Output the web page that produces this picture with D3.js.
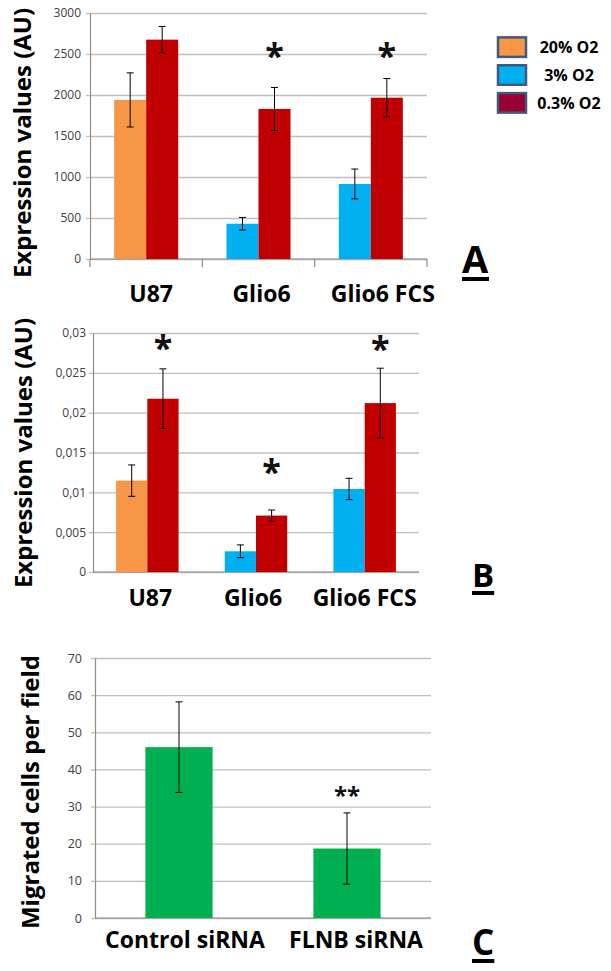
<!DOCTYPE html>
<html><head><meta charset="utf-8">
<script src="https://cdn.jsdelivr.net/npm/d3@7"></script>
<style>
body{margin:0;background:#fff}
svg{display:block}
text{font-family:"Open Sans",sans-serif}
</style>
</head><body>
<svg id="chart" width="611" height="971"></svg>
<script>
// ---------- data ----------
const categoriesAB = ["U87", "Glio6", "Glio6 FCS"];
const conditions = ["20% O2", "3% O2", "0.3% O2"];
const lowConditionAB = ["20% O2", "3% O2", "3% O2"];

const aLow = [1940, 430, 915];
const aLowErr = [330, 77, 182];
const aHyp = [2675, 1830, 1967];
const aHypErr = [160, 262, 234];
const aStars = ["", "*", "*"];
const aStarLevel = [null, 2550, 2550];
const aTicks = [0, 500, 1000, 1500, 2000, 2500, 3000];

const bLow = [0.01147, 0.0026, 0.01042];
const bLowErr = [0.00197, 0.0008, 0.00134];
const bHyp = [0.02175, 0.00708, 0.0212];
const bHypErr = [0.00375, 0.0007, 0.00438];
const bStars = ["*", "*", "*"];
const bStarLevel = [0.0289, 0.0133, 0.0288];
const bTicks = [0, 0.005, 0.01, 0.015, 0.02, 0.025, 0.03];
const bTickLabels = ["0", "0,005", "0,01", "0,015", "0,02", "0,025", "0,03"];

const categoriesC = ["Control siRNA", "FLNB siRNA"];
const cValues = [46.0, 18.7];
const cErr = [12.2, 9.6];
const cStars = ["", "**"];
const cStarLevel = [null, 34.1];
const cTicks = [0, 10, 20, 30, 40, 50, 60, 70];

// ---------- styles ----------
const barColor = {"20% O2": "#F79646", "3% O2": "#00B0F0", "0.3% O2": "#C00000"};
const legendColor = {"20% O2": "#F79646", "3% O2": "#00B0F0", "0.3% O2": "#990033"};
const green = "#00B050";
const gridColor = "#BFBFBF";
const axisColor = "#8C8C8C";

const svg = d3.select("#chart");

function panel(cfg) {
  const g = svg.append("g");
  const y = d3.scaleLinear().domain(cfg.domain).range([cfg.yBot, cfg.yTop]);
  const x = d3.scaleBand().domain(cfg.cats).range([cfg.x0, cfg.x1])
    .paddingInner(cfg.pad).paddingOuter(cfg.pad / 2);
  const nS = cfg.series.length;
  const xs = d3.scaleBand().domain(d3.range(nS)).range([0, x.bandwidth()]);

  // gridlines
  const grid = g.append("g").attr("transform", `translate(${cfg.x0},0)`)
    .call(d3.axisLeft(y).tickValues(cfg.ticks).tickSize(-(cfg.x1 - cfg.x0)).tickFormat(""));
  grid.select(".domain").remove();
  grid.selectAll("line").attr("stroke", gridColor).attr("stroke-width", 1.3);

  // y axis with labels
  const ya = g.append("g").attr("transform", `translate(${cfg.x0},0)`)
    .call(d3.axisLeft(y).tickValues(cfg.ticks).tickSize(4).tickSizeOuter(0)
      .tickPadding(cfg.tickPad).tickFormat(cfg.tickFmt));
  ya.select(".domain").attr("stroke", axisColor).attr("stroke-width", 1.2);
  ya.selectAll("line").attr("stroke", gridColor).attr("stroke-width", 1.3);
  ya.selectAll("text").attr("fill", "#404040").style("font-size", cfg.tickFont + "px");

  // x axis line
  const xa = g.append("g").attr("transform", `translate(0,${cfg.yBot})`)
    .call(d3.axisBottom(x).tickSize(0).tickFormat(""));
  xa.select(".domain").attr("stroke", axisColor).attr("stroke-width", 1.2)
    .attr("d", `M${cfg.x0},0H${cfg.x1}`);
  xa.selectAll(".tick").remove();
  if (cfg.catTicks) {
    const step = x.step();
    g.selectAll("line.cat").data(d3.range(cfg.cats.length + 1)).enter().append("line")
      .attr("x1", i => cfg.x0 + i * step).attr("x2", i => cfg.x0 + i * step)
      .attr("y1", cfg.yBot).attr("y2", cfg.yBot + 8)
      .attr("stroke", axisColor).attr("stroke-width", 1.2);
  }

  // bars
  cfg.series.forEach((s, si) => {
    const data = cfg.cats.map((c, i) => ({c, i, v: s.values[i], e: s.errs[i], col: s.color(i)}));
    g.selectAll(null).data(data).enter().append("rect")
      .attr("x", d => x(d.c) + xs(si))
      .attr("width", xs.bandwidth())
      .attr("y", d => y(d.v))
      .attr("height", d => y(0) - y(d.v))
      .attr("fill", d => d.col);
    const eb = g.selectAll(null).data(data).enter().append("g")
      .attr("transform", d => `translate(${x(d.c) + xs(si) + xs.bandwidth() / 2},0)`);
    eb.append("line").attr("y1", d => y(d.v + d.e)).attr("y2", d => y(d.v - d.e))
      .attr("stroke", "#000").attr("stroke-width", 1);
    eb.append("line").attr("x1", -3.5).attr("x2", 3.5).attr("y1", d => y(d.v + d.e)).attr("y2", d => y(d.v + d.e))
      .attr("stroke", "#000").attr("stroke-width", 1);
    eb.append("line").attr("x1", -3.5).attr("x2", 3.5).attr("y1", d => y(d.v - d.e)).attr("y2", d => y(d.v - d.e))
      .attr("stroke", "#000").attr("stroke-width", 1);
  });

  // significance stars (above last series)
  const si = nS - 1;
  g.selectAll(null).data(cfg.cats.map((c, i) => ({c, s: cfg.stars[i], lv: cfg.starLevel[i]})).filter(d => d.s))
    .enter().append("text")
    .attr("x", d => x(d.c) + xs(si) + xs.bandwidth() / 2)
    .attr("y", d => y(d.lv) + cfg.starSize * 0.53)
    .attr("text-anchor", "middle")
    .style("font-size", cfg.starSize + "px").style("font-weight", "bold")
    .attr("fill", "#111").text(d => d.s);

  // category labels
  g.selectAll(null).data(cfg.cats).enter().append("text")
    .attr("x", (c, i) => x(c) + x.bandwidth() / 2 + cfg.labelShift[i])
    .attr("y", cfg.labelY)
    .attr("text-anchor", "middle")
    .style("font-size", cfg.labelFont + "px").style("font-weight", "bold")
    .attr("fill", "#000").text(c => c);

  // y title
  g.append("text")
    .attr("transform", `translate(${cfg.titleX},${cfg.titleY}) rotate(-90)`)
    .attr("text-anchor", "middle")
    .style("font-size", "24px").style("font-weight", "bold")
    .attr("fill", "#000").text(cfg.title);

  // panel letter
  const lt = g.append("text").attr("x", cfg.letterX).attr("y", cfg.letterY)
    .style("font-size", cfg.letterSize + "px").style("font-weight", "bold")
    .attr("fill", "#000").text(cfg.letter);
  const bb = lt.node().getBBox();
  g.append("rect").attr("x", bb.x).attr("y", cfg.letterY + 4).attr("width", bb.width).attr("height", 4).attr("fill", "#000");
}

// Panel A
panel({
  cats: categoriesAB, domain: [0, 3000], ticks: aTicks, tickFmt: d3.format("d"),
  x0: 90, x1: 427, yTop: 13, yBot: 259, pad: 0.43,
  tickPad: 5, tickFont: 12, catTicks: true,
  series: [
    {values: aLow, errs: aLowErr, color: i => barColor[lowConditionAB[i]]},
    {values: aHyp, errs: aHypErr, color: () => barColor["0.3% O2"]}
  ],
  stars: aStars, starLevel: aStarLevel, starSize: 34,
  labelY: 302, labelFont: 23, labelShift: [5, 3, 12],
  title: "Expression values (AU)", titleX: 31, titleY: 143,
  letter: "A", letterX: 462, letterY: 273, letterSize: 38
});

// Panel B
panel({
  cats: categoriesAB, domain: [0, 0.03], ticks: bTicks,
  tickFmt: (d, i) => bTickLabels[i],
  x0: 93, x1: 419, yTop: 333, yBot: 572, pad: 0.425,
  tickPad: 3, tickFont: 12, catTicks: false,
  series: [
    {values: bLow, errs: bLowErr, color: i => barColor[lowConditionAB[i]]},
    {values: bHyp, errs: bHypErr, color: () => barColor["0.3% O2"]}
  ],
  stars: bStars, starLevel: bStarLevel, starSize: 34,
  labelY: 606, labelFont: 23, labelShift: [3, -3, 0],
  title: "Expression values (AU)", titleX: 32, titleY: 453,
  letter: "B", letterX: 472, letterY: 587, letterSize: 33
});

// Panel C
panel({
  cats: categoriesC, domain: [0, 70], ticks: cTicks, tickFmt: d3.format("d"),
  x0: 95, x1: 431, yTop: 658, yBot: 918, pad: 0.6,
  tickPad: 9, tickFont: 12.5, catTicks: false,
  series: [
    {values: cValues, errs: cErr, color: () => green}
  ],
  stars: cStars, starLevel: cStarLevel, starSize: 24,
  labelY: 948, labelFont: 23, labelShift: [6, 9],
  title: "Migrated cells per field", titleX: 39, titleY: 792,
  letter: "C", letterX: 472, letterY: 955, letterSize: 35
});

// Legend
const lg = svg.append("g");
const legY = d3.scaleBand().domain(conditions).range([29, 121]).padding(0.3);
lg.selectAll(null).data(conditions).enter().append("rect")
  .attr("x", 498).attr("y", c => legY(c)).attr("width", 28).attr("height", legY.bandwidth())
  .attr("fill", c => legendColor[c]).attr("stroke", "#3E5A7E").attr("stroke-width", 2.5);
lg.selectAll(null).data(conditions).enter().append("text")
  .attr("x", 569).attr("y", c => legY(c) + legY.bandwidth() / 2 + 6)
  .attr("text-anchor", "middle")
  .style("font-size", "16px").style("font-weight", "bold").attr("fill", "#000")
  .text(c => c);
</script>
</body></html>
